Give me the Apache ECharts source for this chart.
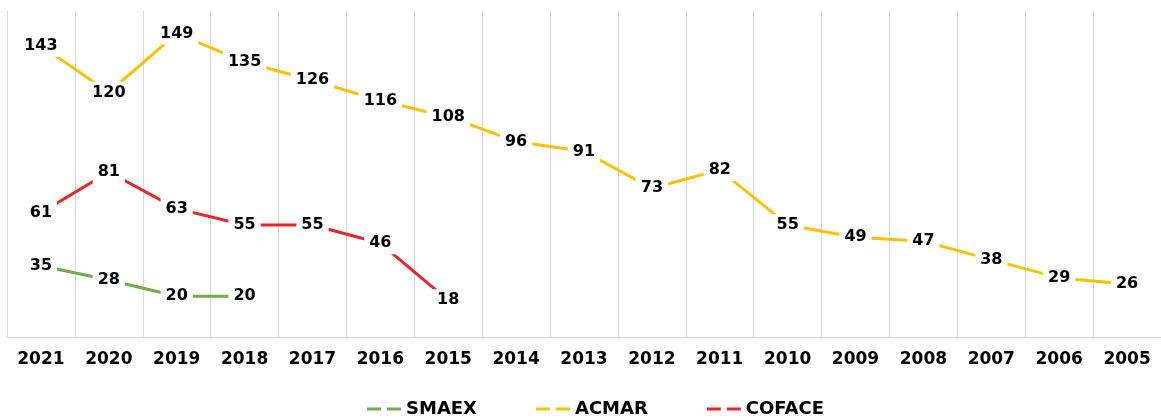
<!DOCTYPE html>
<html>
<head>
    <meta charset='UTF-8'>
    <script src="https://cdn.jsdelivr.net/npm/echarts@6/dist/echarts.min.js"></script>
    <style>
        html, body { margin: 0; padding: 0; background: #ffffff; }
        #chart { width: 1161px; height: 420px; }
    </style>
    <title>Chart</title>
</head>
<body>
    <div id="chart"></div>
    <script>
        var years = ['2021', '2020', '2019', '2018', '2017', '2016', '2015', '2014', '2013',
            '2012', '2011', '2010', '2009', '2008', '2007', '2006', '2005'];
        var smaex = [35, 28, 20, 20];
        var acmar = [143, 120, 149, 135, 126, 116, 108, 96, 91, 73, 82, 55, 49, 47, 38, 29, 26];
        var coface = [61, 81, 63, 55, 55, 46, 18];

        var font = 'DejaVu Sans';
        var dashIcon = 'path://M0,0H14V3H0Z M20,0H34V3H20Z';

        function makeSeries(name, data, color) {
            return {
                name: name,
                type: 'line',
                data: data,
                symbol: 'circle',
                symbolSize: 2,
                itemStyle: { color: color },
                lineStyle: { color: color, width: 3 },
                label: {
                    show: true,
                    position: 'inside',
                    color: '#000000',
                    fontFamily: font,
                    fontWeight: 'bold',
                    fontSize: 16,
                    backgroundColor: '#ffffff',
                    padding: [3, 5]
                },
                emphasis: { disabled: true },
                animation: false
            };
        }

        var myChart = echarts.init(document.getElementById('chart'), null, { renderer: 'canvas' });

        var option = {
            backgroundColor: '#ffffff',
            grid: {
                left: 7,
                right: 0,
                top: 11,
                bottom: 83
            },
            legend: {
                left: 362,
                top: 395,
                itemGap: 59,
                itemWidth: 34,
                itemHeight: 3,
                textStyle: {
                    color: '#000000',
                    fontFamily: font,
                    fontWeight: 'bold',
                    fontSize: 18
                },
                data: [
                    { name: 'SMAEX', icon: dashIcon },
                    { name: 'ACMAR', icon: dashIcon },
                    { name: 'COFACE', icon: dashIcon }
                ]
            },
            xAxis: {
                type: 'category',
                data: years,
                boundaryGap: true,
                axisLine: { lineStyle: { color: '#d9d9d9', width: 1 } },
                axisTick: { show: false },
                axisLabel: {
                    color: '#000000',
                    fontFamily: font,
                    fontWeight: 'bold',
                    fontSize: 17,
                    margin: 14
                },
                splitLine: {
                    show: true,
                    lineStyle: { color: '#d9d9d9', width: 1 }
                }
            },
            yAxis: {
                type: 'value',
                min: 0,
                max: 160,
                show: false,
                splitLine: { show: false }
            },
            series: [
                makeSeries('SMAEX', smaex, '#70AD47'),
                makeSeries('ACMAR', acmar, '#FFC000'),
                makeSeries('COFACE', coface, '#E8262A')
            ]
        };

        myChart.setOption(option);
        window.addEventListener('resize', myChart.resize);
    </script>
</body>
</html>
